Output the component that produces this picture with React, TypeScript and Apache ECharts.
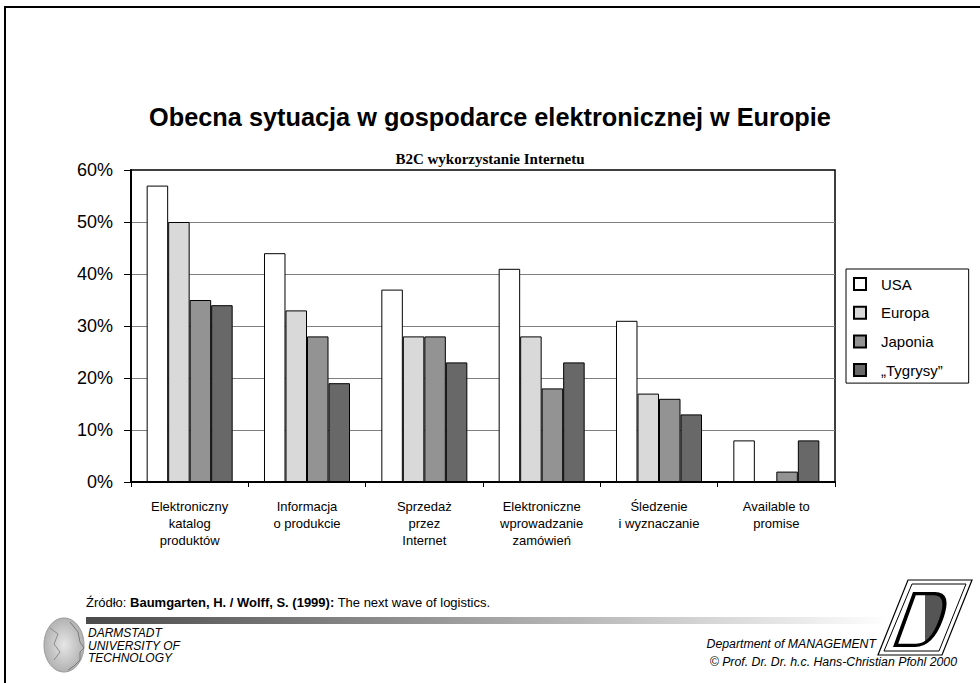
import React, { useEffect, useRef } from "react";
import * as echarts from "echarts";

const categories = [
  "Elektroniczny\nkatalog\nproduktów",
  "Informacja\no produkcie",
  "Sprzedaż\nprzez\nInternet",
  "Elektroniczne\nwprowadzanie\nzamówień",
  "Śledzenie\ni wyznaczanie",
  "Available to\npromise",
];
const seriesNames = ["USA", "Europa", "Japonia", "„Tygrysy”"];
const usa = [57, 44, 37, 41, 31, 8];
const europa = [50, 33, 28, 28, 17, 0];
const japonia = [35, 28, 28, 18, 16, 2];
const tygrysy = [34, 19, 23, 23, 13, 8];
const seriesColors = ["#ffffff", "#d9d9d9", "#939393", "#686868"];
const yMin = 0;
const yMax = 60;
const yStep = 10;

const titleText = "Obecna sytuacja w gospodarce elektronicznej w Europie";
const subtitleText = "B2C wykorzystanie Internetu";

const SANS = "'Liberation Sans', Arial, sans-serif";
const SERIF = "'Liberation Serif', 'Times New Roman', serif";

// D-shaped logo path (already skewed)
const dOuter = "M20 0 L42 0 Q60 0 50 25 Q40 50 22 50 L0 50 Z";
const dInner = "M22.8 3 L40.8 3 Q54.8 3 46 25 Q37.2 47 23.2 47 L5.2 47 Z";
echarts.graphic.registerShape("logoDOuter", echarts.graphic.extendPath(dOuter, {}));
echarts.graphic.registerShape("logoDInner", echarts.graphic.extendPath(dInner, {}));

export default function App() {
  const ref = useRef<HTMLDivElement>(null);

  useEffect(() => {
    if (!ref.current) return;
    const chart = echarts.init(ref.current, undefined, { renderer: "svg" });
    const values = [usa, europa, japonia, tygrysy];

    const option: any = {
      animation: false,
      backgroundColor: "#ffffff",
      title: [
        {
          text: titleText,
          left: "center",
          top: 99,
          textStyle: { fontSize: 25.3, fontWeight: "bold", fontFamily: SANS, color: "#000" },
        },
        {
          text: subtitleText,
          left: "center",
          top: 146,
          textStyle: { fontSize: 15, fontWeight: "bold", fontFamily: SERIF, color: "#000" },
        },
      ],
      legend: {
        orient: "vertical",
        left: 846,
        top: 269,
        icon: "rect",
        itemWidth: 12,
        itemHeight: 12,
        itemGap: 13.7,
        padding: [7.5, 26, 5.5, 7],
        borderColor: "#000",
        borderWidth: 1,
        backgroundColor: "#fff",
        data: seriesNames,
        textStyle: {
          fontSize: 15,
          lineHeight: 15,
          fontFamily: SANS,
          color: "#000",
          padding: [0, 0, 0, 10],
        },
      },
      grid: {
        left: 131,
        right: 145,
        top: 170,
        bottom: 201,
        show: true,
        borderColor: "#000",
        borderWidth: 1.5,
        backgroundColor: "transparent",
        containLabel: false,
      },
      xAxis: {
        type: "category",
        data: categories,
        boundaryGap: true,
        axisLine: { show: true, lineStyle: { color: "#000", width: 2 } },
        axisTick: { show: true, length: 5, lineStyle: { color: "#000", width: 1 } },
        axisLabel: {
          interval: 0,
          margin: 16,
          fontSize: 13,
          lineHeight: 17,
          fontFamily: SANS,
          color: "#000",
          align: "center",
        },
        splitLine: { show: false },
      },
      yAxis: {
        type: "value",
        min: yMin,
        max: yMax,
        interval: yStep,
        axisLine: { show: true, lineStyle: { color: "#000", width: 2 } },
        axisTick: { show: true, length: 7, lineStyle: { color: "#000", width: 1 } },
        axisLabel: {
          formatter: "{value}%",
          fontSize: 18,
          margin: 18,
          fontFamily: SANS,
          color: "#000",
        },
        splitLine: {
          show: true,
          showMaxLine: false,
          lineStyle: { color: "#808080", width: 1 },
        },
      },
      series: seriesNames.map((name, i) => ({
        name,
        type: "bar",
        data: values[i],
        barGap: "0%",
        barCategoryGap: "26.7%",
        itemStyle: { color: seriesColors[i], borderColor: "#000", borderWidth: 1 },
        emphasis: { disabled: true },
      })),
      graphic: [
        // slide frame
        { type: "line", shape: { x1: 4, y1: 7, x2: 980, y2: 7 }, style: { stroke: "#000", lineWidth: 2 } },
        { type: "line", shape: { x1: 5, y1: 6, x2: 5, y2: 683 }, style: { stroke: "#000", lineWidth: 2 } },
        // source line
        {
          type: "text",
          left: 86,
          top: 596,
          style: {
            text: "{n|Źródło: }{b|Baumgarten, H. / Wolff, S. (1999):}{n| The next wave of logistics.}",
            rich: {
              n: { fontSize: 13, fontFamily: SANS, fill: "#000" },
              b: { fontSize: 13, fontFamily: SANS, fontWeight: "bold", fill: "#000" },
            },
          },
        },
        // gradient bar
        {
          type: "rect",
          shape: { x: 86, y: 617, width: 805, height: 7 },
          style: {
            fill: new echarts.graphic.LinearGradient(0, 0, 1, 0, [
              { offset: 0, color: "#4a4a4a" },
              { offset: 0.45, color: "#9a9a9a" },
              { offset: 1, color: "#ffffff" },
            ]),
          },
        },
        // university text
        {
          type: "text",
          left: 88,
          top: 627,
          style: {
            text: "DARMSTADT\nUNIVERSITY OF\nTECHNOLOGY",
            fontSize: 12,
            lineHeight: 12.5,
            fontStyle: "italic",
            fontFamily: SANS,
            fill: "#000",
          },
        },
        // department text
        {
          type: "text",
          x: 876,
          y: 644,
          style: {
            text: "Department of MANAGEMENT",
            fontSize: 12.3,
            fontStyle: "italic",
            fontFamily: SANS,
            fill: "#000",
            align: "right",
            verticalAlign: "middle",
          },
        },
        {
          type: "text",
          x: 957,
          y: 662,
          style: {
            text: "© Prof. Dr. Dr. h.c. Hans-Christian Pfohl 2000",
            fontSize: 12.3,
            fontStyle: "italic",
            fontFamily: SANS,
            fill: "#000",
            align: "right",
            verticalAlign: "middle",
          },
        },
        // Athena head logo (approximation)
        {
          type: "ellipse",
          shape: { cx: 64, cy: 645, rx: 20, ry: 27 },
          style: {
            fill: new echarts.graphic.RadialGradient(0.5, 0.5, 0.6, [
              { offset: 0, color: "#e6e6e6" },
              { offset: 1, color: "#a8a8a8" },
            ]),
            stroke: "#9a9a9a",
            lineWidth: 1,
          },
        },
        {
          type: "polyline",
          shape: { points: [[70, 622], [78, 632], [80, 642], [84, 648], [80, 652], [80, 660], [74, 666], [68, 670]] },
          style: { stroke: "#7a7a7a", lineWidth: 1, fill: "none" },
        },
        {
          type: "polyline",
          shape: { points: [[50, 628], [58, 634], [54, 644], [60, 652], [54, 660]] },
          style: { stroke: "#8a8a8a", lineWidth: 1, fill: "none" },
        },
        // right logo: parallelogram frame
        {
          type: "polygon",
          shape: { points: [[908, 580], [972, 580], [942, 655], [878, 655]] },
          style: { fill: "#fff", stroke: "#000", lineWidth: 1.2 },
        },
        {
          type: "polygon",
          shape: { points: [[912, 584], [966, 584], [939, 651], [884, 651]] },
          style: { fill: "none", stroke: "#000", lineWidth: 1 },
        },
        {
          type: "logoDOuter",
          x: 893,
          y: 592,
          scaleX: 1,
          scaleY: 1.1,
          style: { fill: "#000" },
        },
        {
          type: "logoDInner",
          x: 893,
          y: 592,
          scaleX: 1,
          scaleY: 1.1,
          style: {
            fill: new echarts.graphic.LinearGradient(0, 0, 1, 0, [
              { offset: 0, color: "#ffffff" },
              { offset: 0.6, color: "#ffffff" },
              { offset: 0.61, color: "#555555" },
              { offset: 1, color: "#555555" },
            ]),
          },
        },
      ],
    };

    chart.setOption(option);
    return () => chart.dispose();
  }, []);

  return (
    <div
      ref={ref}
      style={{ position: "fixed", left: 0, top: 0, width: 980, height: 683, background: "#fff" }}
    />
  );
}
